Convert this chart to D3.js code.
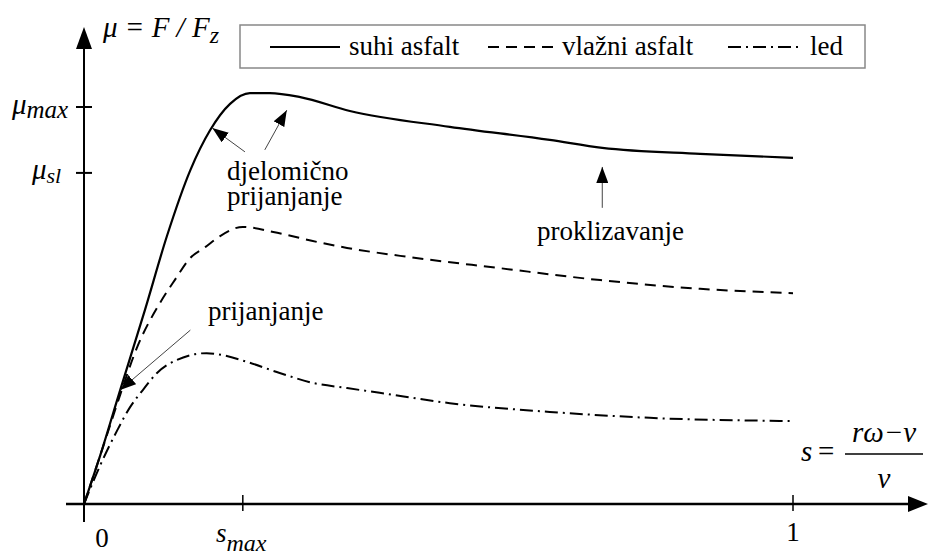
<!DOCTYPE html>
<html>
<head>
<meta charset="utf-8">
<script src="https://cdn.jsdelivr.net/npm/d3@7"></script>
<style>
  body { margin: 0; background: #fff; }
  svg text { font-family: "Liberation Serif", "Times New Roman", serif; fill: #000; }
</style>
</head>
<body>
<svg id="chart" width="929" height="554"></svg>
<script>
// klizanje s (0..1) i koeficijent trenja (normiran na mu_max = 1)
var suhiS  = [0, 0.023, 0.051, 0.086, 0.117, 0.150, 0.178, 0.206, 0.234, 0.262, 0.305, 0.375, 0.516, 0.657, 0.731, 0.869, 1];
var suhiMu = [0, 0.123, 0.287, 0.489, 0.675, 0.841, 0.942, 1.008, 1.035, 1.035, 1.025, 0.990, 0.950, 0.917, 0.897, 0.882, 0.872];

var vlazniS  = [0, 0.030, 0.051, 0.075, 0.107, 0.128, 0.150, 0.171, 0.192, 0.224, 0.267, 0.329, 0.371, 0.446, 0.587, 0.728, 0.869, 1];
var vlazniMu = [0, 0.161, 0.275, 0.395, 0.506, 0.564, 0.620, 0.647, 0.675, 0.698, 0.685, 0.660, 0.645, 0.625, 0.594, 0.564, 0.542, 0.531];

var ledS  = [0, 0.023, 0.047, 0.065, 0.083, 0.103, 0.131, 0.173, 0.196, 0.230, 0.276, 0.323, 0.371, 0.417, 0.516, 0.657, 0.798, 1];
var ledMu = [0, 0.098, 0.186, 0.244, 0.287, 0.330, 0.363, 0.380, 0.375, 0.358, 0.330, 0.305, 0.292, 0.280, 0.254, 0.232, 0.217, 0.209];

var seriesNames = ["suhi asfalt", "vlažni asfalt", "led"];
var sMax = 0.224;
var muMax = 1.0;
var muSl = 0.834;

var svg = d3.select("#chart");

var x = d3.scaleLinear().domain([0, 1]).range([84, 793]);
var y = d3.scaleLinear().domain([0, 1]).range([504, 107]);

// strelice
var defs = svg.append("defs");
defs.append("marker")
  .attr("id", "head")
  .attr("markerUnits", "userSpaceOnUse")
  .attr("viewBox", "0 0 16 12")
  .attr("refX", 16).attr("refY", 6)
  .attr("markerWidth", 16).attr("markerHeight", 12)
  .attr("orient", "auto")
  .append("path").attr("d", "M0,0 L16,6 L0,12 Z").attr("fill", "#000");

// osi
svg.append("line")
  .attr("x1", 66).attr("x2", 912).attr("y1", y(0)).attr("y2", y(0))
  .attr("stroke", "#000").attr("stroke-width", 2.5);
svg.append("path")
  .attr("d", "M908," + (y(0) - 8) + " L928," + y(0) + " L908," + (y(0) + 8) + " Z")
  .attr("fill", "#000");

svg.append("line")
  .attr("x1", x(0)).attr("x2", x(0)).attr("y1", 522).attr("y2", 46)
  .attr("stroke", "#000").attr("stroke-width", 2);
svg.append("path")
  .attr("d", "M" + (x(0) - 8) + ",49 L" + x(0) + ",27 L" + (x(0) + 8) + ",49 Z")
  .attr("fill", "#000");

// oznake na osima
[sMax, 1].forEach(function(v) {
  svg.append("line")
    .attr("x1", x(v)).attr("x2", x(v)).attr("y1", y(0) - 9).attr("y2", y(0) + 7)
    .attr("stroke", "#000").attr("stroke-width", 1.5);
});
[muMax, muSl].forEach(function(v) {
  svg.append("line")
    .attr("x1", x(0) - 8).attr("x2", x(0) + 8).attr("y1", y(v)).attr("y2", y(v))
    .attr("stroke", "#000").attr("stroke-width", 2);
});

svg.append("text").attr("x", 102).attr("y", 547).attr("text-anchor", "middle")
  .attr("font-size", 27).text("0");
svg.append("text").attr("x", x(1)).attr("y", 541).attr("text-anchor", "middle")
  .attr("font-size", 27).text("1");

var smax = svg.append("text").attr("x", 216).attr("y", 542)
  .attr("font-size", 27).attr("font-style", "italic");
smax.append("tspan").text("s");
smax.append("tspan").attr("dy", 9).attr("font-size", 24).text("max");

var mumax = svg.append("text").attr("x", 12).attr("y", 114)
  .attr("font-size", 29).attr("font-style", "italic");
mumax.append("tspan").text("μ");
mumax.append("tspan").attr("dy", 4).attr("font-size", 25).text("max");

var musl = svg.append("text").attr("x", 32).attr("y", 179)
  .attr("font-size", 29).attr("font-style", "italic");
musl.append("tspan").text("μ");
musl.append("tspan").attr("dy", 4).attr("font-size", 22).text("sl");

// naziv osi y
var ylab = svg.append("text").attr("x", 103).attr("y", 37)
  .attr("font-size", 29).attr("font-style", "italic");
ylab.append("tspan").text("μ = F / F");
ylab.append("tspan").attr("dy", 6).attr("font-size", 24).text("z");

// naziv osi x:  s = (rω − v) / v
svg.append("text").attr("x", 801).attr("y", 461).attr("font-size", 29)
  .attr("font-style", "italic").text("s");
svg.append("text").attr("x", 818).attr("y", 461).attr("font-size", 29).text("=");
svg.append("line").attr("x1", 845).attr("x2", 923).attr("y1", 454).attr("y2", 454)
  .attr("stroke", "#000").attr("stroke-width", 1.5);
svg.append("text").attr("x", 884).attr("y", 442).attr("text-anchor", "middle")
  .attr("font-size", 29).attr("font-style", "italic").text("rω−v");
svg.append("text").attr("x", 884).attr("y", 488).attr("text-anchor", "middle")
  .attr("font-size", 29).attr("font-style", "italic").text("v");

// krivulje
var line = d3.line()
  .x(function(d) { return x(d[0]); })
  .y(function(d) { return y(d[1]); })
  .curve(d3.curveMonotoneX);

var styles = [
  { dash: null, width: 2.2 },
  { dash: "11,7", width: 2 },
  { dash: "13,5,2,5", width: 2 }
];

var series = [
  d3.zip(suhiS, suhiMu),
  d3.zip(vlazniS, vlazniMu),
  d3.zip(ledS, ledMu)
];

svg.selectAll("path.curve")
  .data(series)
  .enter().append("path")
  .attr("class", "curve")
  .attr("d", line)
  .attr("fill", "none")
  .attr("stroke", "#000")
  .attr("stroke-width", function(d, i) { return styles[i].width; })
  .attr("stroke-dasharray", function(d, i) { return styles[i].dash; });

// legenda
svg.append("rect").attr("x", 240).attr("y", 25).attr("width", 625).attr("height", 43)
  .attr("fill", "#fff").attr("stroke", "#888").attr("stroke-width", 1.5);

var legendPos = [
  { x1: 270, x2: 340, tx: 349 },
  { x1: 488, x2: 560, tx: 562 },
  { x1: 728, x2: 802, tx: 810 }
];
legendPos.forEach(function(p, i) {
  svg.append("line").attr("x1", p.x1).attr("x2", p.x2).attr("y1", 47).attr("y2", 47)
    .attr("stroke", "#000").attr("stroke-width", 2)
    .attr("stroke-dasharray", styles[i].dash);
  svg.append("text").attr("x", p.tx).attr("y", 55).attr("font-size", 27)
    .text(seriesNames[i]);
});

// napomene sa strelicama
var notes = [
  { from: [0.227, 0.887], to: [0.181, 0.947] },
  { from: [0.255, 0.892], to: [0.286, 0.992] },
  { from: [0.150, 0.438], to: [0.051, 0.287] },
  { from: [0.731, 0.746], to: [0.731, 0.849] }
];
notes.forEach(function(n) {
  svg.append("line")
    .attr("x1", x(n.from[0])).attr("y1", y(n.from[1]))
    .attr("x2", x(n.to[0])).attr("y2", y(n.to[1]))
    .attr("stroke", "#444").attr("stroke-width", 1)
    .attr("marker-end", "url(#head)");
});

svg.append("text").attr("x", 227).attr("y", 180).attr("font-size", 27).text("djelomično");
svg.append("text").attr("x", 227).attr("y", 205).attr("font-size", 27).text("prijanjanje");
svg.append("text").attr("x", 208).attr("y", 320).attr("font-size", 27).text("prijanjanje");
svg.append("text").attr("x", 537).attr("y", 240).attr("font-size", 27).text("proklizavanje");
</script>
</body>
</html>
